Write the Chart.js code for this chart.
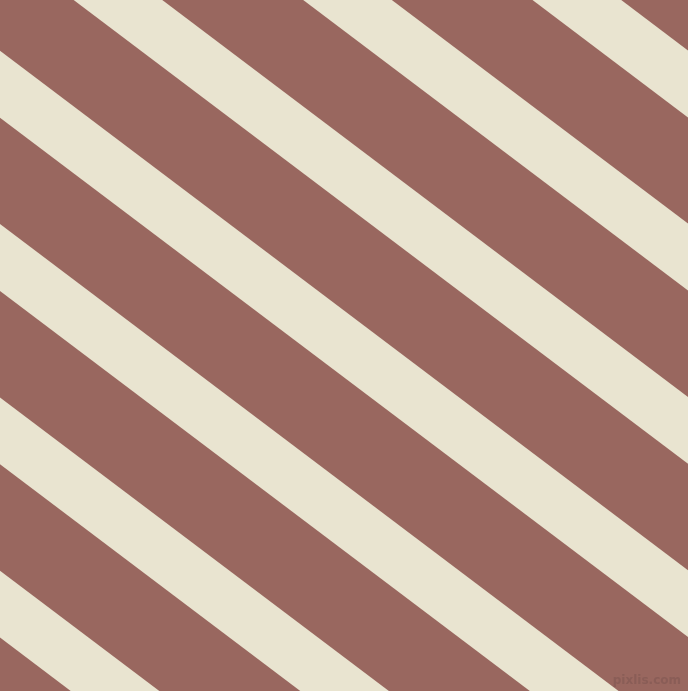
<!DOCTYPE html>
<html>
<head>
<meta charset="utf-8">
<script src="https://cdn.jsdelivr.net/npm/chart.js@4.4.1/dist/chart.umd.min.js"></script>
<style>
  html, body { margin: 0; padding: 0; background: #99675f; }
  #wrap { width: 688px; height: 691px; position: relative; }
</style>
</head>
<body>
<div id="wrap"><canvas id="myChart"></canvas></div>
<script>
// stripe edges: y where each edge meets the left (x=0) and right (x=688) side
const xEnds = [0, 688];
const upperLeft  = [-469.0, -295.8, -122.5, 50.8, 224.0, 397.4, 570.7];
const upperRight = [  50.4,  223.6,  396.9, 570.2, 743.4, 916.8, 1090.1];
const lowerLeft  = [-402.0, -228.9,  -55.6, 117.7, 291.0, 464.3, 637.6];
const lowerRight = [ 117.4,  290.5,  463.8, 637.1, 810.4, 983.7, 1157.0];

const brown = '#99675f';
const cream = '#e9e4d0';

var ctx = document.getElementById("myChart").getContext('2d');

var datasets = [];
for (let i = 0; i < upperLeft.length; i++) {
  datasets.push({
    data: [{x: xEnds[0], y: upperLeft[i]}, {x: xEnds[1], y: upperRight[i]}],
    borderWidth: 0,
    pointRadius: 0,
    fill: false
  });
  datasets.push({
    data: [{x: xEnds[0], y: lowerLeft[i]}, {x: xEnds[1], y: lowerRight[i]}],
    borderWidth: 0,
    pointRadius: 0,
    backgroundColor: cream,
    fill: '-1'
  });
}

const watermark = {
  id: 'watermark',
  afterDraw(chart) {
    const c = chart.ctx;
    c.save();
    c.font = 'bold 12px "DejaVu Sans"';
    c.fillStyle = 'rgba(125,85,80,0.55)';
    c.textAlign = 'right';
    c.textBaseline = 'alphabetic';
    c.fillText('pixlis.com', 681, 684);
    c.restore();
  }
};

new Chart(ctx, {
  type: 'line',
  data: { datasets: datasets },
  plugins: [watermark],
  options: {
    responsive: true,
    maintainAspectRatio: false,
    animation: false,
    layout: { padding: 0 },
    plugins: {
      legend: { display: false },
      tooltip: { enabled: false }
    },
    elements: { line: { tension: 0 } },
    scales: {
      x: { type: 'linear', min: 0, max: 688, display: false },
      y: { type: 'linear', min: 0, max: 691, reverse: true, display: false }
    }
  }
});
</script>
</body>
</html>
